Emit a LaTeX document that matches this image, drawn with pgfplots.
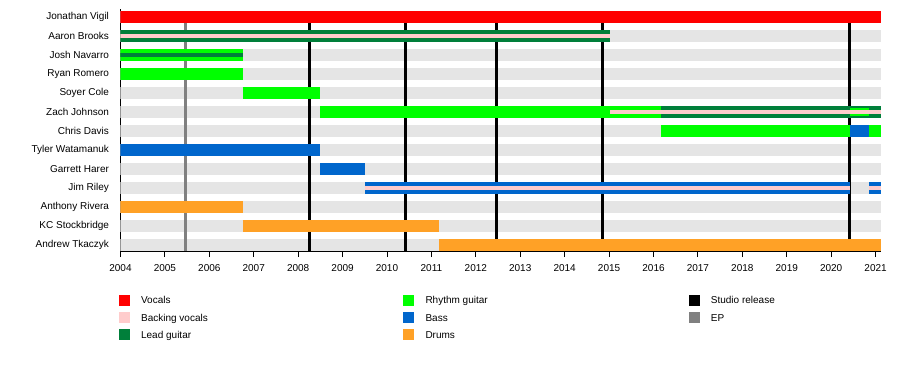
\documentclass[border=0pt]{standalone}
\usepackage{fontspec}
\setmainfont{Liberation Sans}
\usepackage{pgfplots}
\pgfplotsset{compat=1.18}
\definecolor{cVoc}{HTML}{FF0000}
\definecolor{cBack}{HTML}{FFCCCC}
\definecolor{cLead}{HTML}{007F3A}
\definecolor{cRhy}{HTML}{00FF00}
\definecolor{cBass}{HTML}{0066CC}
\definecolor{cDrum}{HTML}{FFA126}
\definecolor{cEP}{HTML}{808080}
\definecolor{cBg}{HTML}{E5E5E5}
\newcommand{\lstrut}{\rule[-2.4pt]{0pt}{12pt}}
\begin{document}
\begin{tikzpicture}
\begin{axis}[
  scale only axis, width=760.5pt, height=242pt,
  xmin=2004, xmax=2021.12, ymin=-0.316, ymax=12.421,
  axis x line*=bottom, axis y line*=left,
  axis line style={line width=0.9pt, black},
  xtick={2004,...,2021}, tick align=outside, major tick length=6pt,
  x tick style={black, line width=0.9pt},
  ytick={0,...,12}, y tick style={draw=none},
  yticklabels={Andrew Tkaczyk, KC Stockbridge, Anthony Rivera, Jim Riley, Garrett Harer, Tyler Watamanuk, Chris Davis, Zach Johnson, Soyer Cole, Ryan Romero, Josh Navarro, Aaron Brooks, Jonathan Vigil},
  tick label style={font=\fontsize{10}{12}\selectfont},
  /pgf/number format/assume math mode=true,
  /pgf/number format/1000 sep={},
  yticklabel style={anchor=east, xshift=-2pt},
  xticklabel style={yshift=-4pt},
  legend style={draw=none, fill=none, at={(axis description cs:-0.0026,-0.170)}, anchor=north west, inner sep=0pt, font=\fontsize{10}{12}\selectfont, row sep=2pt, /tikz/every odd column/.style={column sep=10pt}},
  legend columns=3, legend cell align=left,
]
% background rows
\addplot[forget plot, line width=12pt, cBg] coordinates {(2004,12) (2021.12,12)};
\addplot[forget plot, line width=12pt, cBg] coordinates {(2004,11) (2021.12,11)};
\addplot[forget plot, line width=12pt, cBg] coordinates {(2004,10) (2021.12,10)};
\addplot[forget plot, line width=12pt, cBg] coordinates {(2004,9) (2021.12,9)};
\addplot[forget plot, line width=12pt, cBg] coordinates {(2004,8) (2021.12,8)};
\addplot[forget plot, line width=12pt, cBg] coordinates {(2004,7) (2021.12,7)};
\addplot[forget plot, line width=12pt, cBg] coordinates {(2004,6) (2021.12,6)};
\addplot[forget plot, line width=12pt, cBg] coordinates {(2004,5) (2021.12,5)};
\addplot[forget plot, line width=12pt, cBg] coordinates {(2004,4) (2021.12,4)};
\addplot[forget plot, line width=12pt, cBg] coordinates {(2004,3) (2021.12,3)};
\addplot[forget plot, line width=12pt, cBg] coordinates {(2004,2) (2021.12,2)};
\addplot[forget plot, line width=12pt, cBg] coordinates {(2004,1) (2021.12,1)};
\addplot[forget plot, line width=12pt, cBg] coordinates {(2004,0) (2021.12,0)};
% releases
\addplot[forget plot, line width=3pt, cEP] coordinates {(2005.47,12) (2005.47,-0.316)};
\addplot[forget plot, line width=3pt, black] coordinates {(2008.26,12) (2008.26,-0.316)};
\addplot[forget plot, line width=3pt, black] coordinates {(2010.42,12) (2010.42,-0.316)};
\addplot[forget plot, line width=3pt, black] coordinates {(2012.46,12) (2012.46,-0.316)};
\addplot[forget plot, line width=3pt, black] coordinates {(2014.86,12) (2014.86,-0.316)};
\addplot[forget plot, line width=3pt, black] coordinates {(2020.42,12) (2020.42,-0.316)};
% Jonathan Vigil
\addplot[forget plot, line width=12pt, cVoc] coordinates {(2004,12) (2021.12,12)};
% Aaron Brooks
\addplot[forget plot, line width=12pt, cLead] coordinates {(2004,11) (2015.02,11)};
\addplot[forget plot, line width=4pt, cBack] coordinates {(2004,11) (2015.02,11)};
% Josh Navarro
\addplot[forget plot, line width=12pt, cRhy] coordinates {(2004,10) (2006.75,10)};
\addplot[forget plot, line width=4pt, cLead] coordinates {(2004,10) (2006.75,10)};
% Ryan Romero
\addplot[forget plot, line width=12pt, cRhy] coordinates {(2004,9) (2006.75,9)};
% Soyer Cole
\addplot[forget plot, line width=12pt, cRhy] coordinates {(2006.75,8) (2008.5,8)};
% Zach Johnson
\addplot[forget plot, line width=12pt, cRhy] coordinates {(2008.5,7) (2016.17,7)};
\addplot[forget plot, line width=12pt, cLead] coordinates {(2016.17,7) (2021.12,7)};
\addplot[forget plot, line width=8pt, cRhy] coordinates {(2020.42,7) (2020.86,7)};
\addplot[forget plot, line width=4pt, cBack] coordinates {(2015.02,7) (2021.12,7)};
% Chris Davis
\addplot[forget plot, line width=12pt, cRhy] coordinates {(2016.17,6) (2020.42,6)};
\addplot[forget plot, line width=12pt, cBass] coordinates {(2020.42,6) (2020.86,6)};
\addplot[forget plot, line width=12pt, cRhy] coordinates {(2020.86,6) (2021.12,6)};
% Tyler Watamanuk
\addplot[forget plot, line width=12pt, cBass] coordinates {(2004,5) (2008.5,5)};
% Garrett Harer
\addplot[forget plot, line width=12pt, cBass] coordinates {(2008.5,4) (2009.5,4)};
% Jim Riley
\addplot[forget plot, line width=12pt, cBass] coordinates {(2009.5,3) (2020.42,3)};
\addplot[forget plot, line width=4pt, cBack] coordinates {(2009.5,3) (2020.42,3)};
\addplot[forget plot, line width=12pt, cBass] coordinates {(2020.86,3) (2021.12,3)};
\addplot[forget plot, line width=4pt, cBack] coordinates {(2020.86,3) (2021.12,3)};
% Anthony Rivera
\addplot[forget plot, line width=12pt, cDrum] coordinates {(2004,2) (2006.75,2)};
% KC Stockbridge
\addplot[forget plot, line width=12pt, cDrum] coordinates {(2006.75,1) (2011.17,1)};
% Andrew Tkaczyk
\addplot[forget plot, line width=12pt, cDrum] coordinates {(2011.17,0) (2021.12,0)};
% legend
\addlegendimage{legend image code/.code={\fill[cVoc] (0pt,-5pt) rectangle (10pt,5pt);}}
\addlegendentry{\makebox[260pt][l]{\lstrut Vocals}}
\addlegendimage{legend image code/.code={\fill[cRhy] (0pt,-5pt) rectangle (10pt,5pt);}}
\addlegendentry{\makebox[261pt][l]{\lstrut Rhythm guitar}}
\addlegendimage{legend image code/.code={\fill[black] (0pt,-5pt) rectangle (10pt,5pt);}}
\addlegendentry{\makebox[100pt][l]{\lstrut Studio release}}
\addlegendimage{legend image code/.code={\fill[cBack] (0pt,-5pt) rectangle (10pt,5pt);}}
\addlegendentry{\makebox[260pt][l]{\lstrut Backing vocals}}
\addlegendimage{legend image code/.code={\fill[cBass] (0pt,-5pt) rectangle (10pt,5pt);}}
\addlegendentry{\makebox[261pt][l]{\lstrut Bass}}
\addlegendimage{legend image code/.code={\fill[cEP] (0pt,-5pt) rectangle (10pt,5pt);}}
\addlegendentry{\makebox[100pt][l]{\lstrut EP}}
\addlegendimage{legend image code/.code={\fill[cLead] (0pt,-5pt) rectangle (10pt,5pt);}}
\addlegendentry{\makebox[260pt][l]{\lstrut Lead guitar}}
\addlegendimage{legend image code/.code={\fill[cDrum] (0pt,-5pt) rectangle (10pt,5pt);}}
\addlegendentry{\makebox[261pt][l]{\lstrut Drums}}
\end{axis}
\pgfresetboundingbox
\path (-120.5pt,-119pt) rectangle (779.5pt,251pt);
\end{tikzpicture}
\end{document}
